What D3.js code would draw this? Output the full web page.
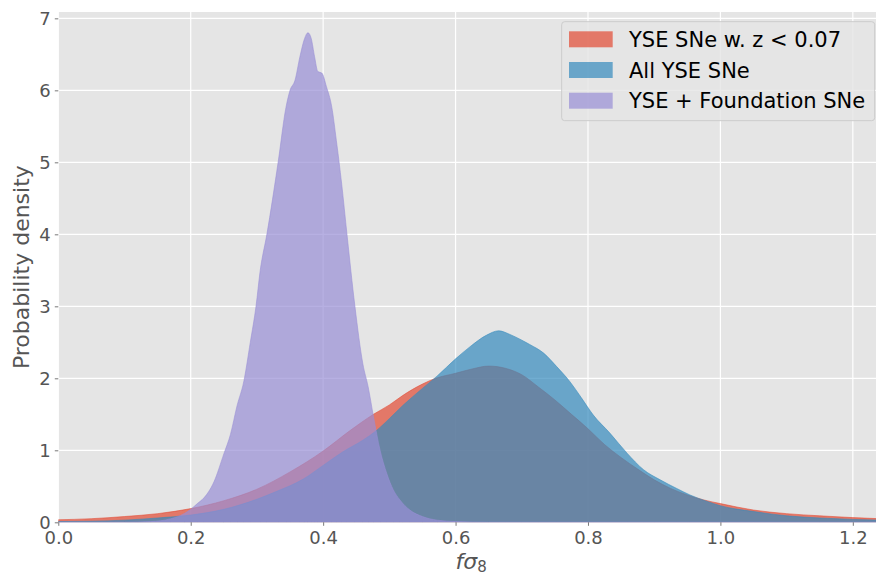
<!DOCTYPE html>
<html>
<head>
<meta charset="utf-8">
<script src="https://cdn.jsdelivr.net/npm/d3@7"></script>
<style>
  html, body { margin: 0; padding: 0; background: #ffffff; }
  svg { display: block; font-family: "DejaVu Sans", sans-serif; }
</style>
</head>
<body>
<svg id="chart" width="876" height="573"></svg>
<script>
// Posterior densities of f*sigma_8 for three supernova samples
const seriesNames = ["YSE SNe w. z < 0.07", "All YSE SNe", "YSE + Foundation SNe"];
const seriesColors = ["#E24A33", "#348ABD", "#988ED5"];

const lowZ = [
  [0.0, 0.035], [0.05, 0.05], [0.1, 0.08], [0.15, 0.12], [0.2, 0.19], [0.25, 0.3],
  [0.3, 0.46], [0.35, 0.7], [0.4, 0.99], [0.44, 1.27],
  [0.476, 1.5], [0.5, 1.63], [0.52, 1.76], [0.55, 1.92], [0.57, 2.0], [0.6, 2.07],
  [0.625, 2.13], [0.65, 2.17], [0.675, 2.14], [0.7, 2.05], [0.725, 1.88], [0.75, 1.7],
  [0.775, 1.5], [0.8, 1.3], [0.825, 1.08], [0.85, 0.9], [0.875, 0.74], [0.9, 0.59],
  [0.925, 0.47], [0.95, 0.38], [0.975, 0.31], [1.0, 0.26], [1.05, 0.17], [1.1, 0.12],
  [1.15, 0.09], [1.2, 0.065], [1.24, 0.05]
];

const allYSE = [
  [0.0, 0.01], [0.05, 0.015], [0.1, 0.03], [0.15, 0.06], [0.2, 0.1], [0.25, 0.18],
  [0.3, 0.32], [0.33, 0.43], [0.37, 0.6], [0.4, 0.79], [0.43, 0.98], [0.46, 1.14],
  [0.48, 1.27], [0.5, 1.44], [0.52, 1.62], [0.55, 1.86], [0.572, 2.03], [0.6, 2.27],
  [0.622, 2.44], [0.647, 2.6], [0.665, 2.66], [0.682, 2.61], [0.7, 2.53], [0.712, 2.47],
  [0.733, 2.35], [0.753, 2.16], [0.773, 1.95], [0.79, 1.73], [0.808, 1.49], [0.833, 1.24],
  [0.859, 0.96], [0.884, 0.73], [0.909, 0.59], [0.934, 0.47], [0.954, 0.38], [0.98, 0.29],
  [1.0, 0.23], [1.05, 0.15], [1.1, 0.09], [1.15, 0.06], [1.2, 0.04], [1.24, 0.03]
];

const withFoundation = [
  [0.0, 0.0], [0.1, 0.0], [0.14, 0.01], [0.17, 0.05], [0.19, 0.12], [0.2, 0.18],
  [0.21, 0.26], [0.22, 0.34], [0.235, 0.56], [0.25, 0.95], [0.26, 1.22], [0.27, 1.62],
  [0.28, 1.95], [0.29, 2.5], [0.2986, 3.0], [0.305, 3.5], [0.315, 4.0], [0.332, 5.0],
  [0.344, 5.77], [0.35, 6.0], [0.3575, 6.14], [0.365, 6.47], [0.372, 6.72], [0.377, 6.8],
  [0.382, 6.72], [0.387, 6.47], [0.392, 6.26], [0.398, 6.24], [0.405, 6.05], [0.413, 5.77],
  [0.42, 5.3], [0.428, 4.7], [0.436, 4.0], [0.448, 3.0], [0.46, 2.2], [0.468, 1.88],
  [0.476, 1.47], [0.486, 1.0], [0.496, 0.68], [0.506, 0.45], [0.516, 0.31], [0.531, 0.17],
  [0.55, 0.08], [0.572, 0.03], [0.6, 0.01], [0.65, 0.0], [1.24, 0.0]
];

const xTicks = [0.0, 0.2, 0.4, 0.6, 0.8, 1.0, 1.2];
const yTicks = [0, 1, 2, 3, 4, 5, 6, 7];

const W = 876, H = 573;
const margin = { left: 58.3, right: 0, top: 12, bottom: 50.7 };
const plotW = W - margin.left - margin.right;
const plotH = H - margin.top - margin.bottom;

const x = d3.scaleLinear().domain([0, 1.235]).range([0, plotW]);
const y = d3.scaleLinear().domain([0, 7.088]).range([plotH, 0]);

const svg = d3.select("#chart");
const g = svg.append("g").attr("transform", `translate(${margin.left},${margin.top})`);

// panel background
g.append("rect").attr("width", plotW).attr("height", plotH).attr("fill", "#E5E5E5");

// grid
g.append("g").selectAll("line").data(xTicks).join("line")
  .attr("x1", d => x(d)).attr("x2", d => x(d)).attr("y1", 0).attr("y2", plotH)
  .attr("stroke", "#ffffff").attr("stroke-width", 1.2);
g.append("g").selectAll("line").data(yTicks).join("line")
  .attr("x1", 0).attr("x2", plotW).attr("y1", d => y(d)).attr("y2", d => y(d))
  .attr("stroke", "#ffffff").attr("stroke-width", 1.2);

// density areas
const area = d3.area().x(d => x(d[0])).y0(y(0)).y1(d => y(d[1])).curve(d3.curveMonotoneX);
g.append("clipPath").attr("id", "plotclip")
  .append("rect").attr("width", plotW).attr("height", plotH);
const layers = g.append("g").attr("clip-path", "url(#plotclip)");
[lowZ, allYSE, withFoundation].forEach((data, i) => {
  layers.append("path").datum(data).attr("d", area)
    .attr("fill", seriesColors[i]).attr("fill-opacity", 0.7)
    .attr("stroke", seriesColors[i]).attr("stroke-opacity", 0.7).attr("stroke-width", 0.8);
});

// axes
const xAxis = d3.axisBottom(x).tickValues(xTicks).tickFormat(d3.format(".1f")).tickSize(3.5).tickPadding(5);
const yAxis = d3.axisLeft(y).tickValues(yTicks).tickFormat(d3.format("d")).tickSize(3.5).tickPadding(4);

const gx = g.append("g").attr("transform", `translate(0,${plotH})`).call(xAxis);
const gy = g.append("g").call(yAxis);
[gx, gy].forEach(a => {
  a.select(".domain").remove();
  a.selectAll(".tick line").attr("stroke", "#555555").attr("stroke-width", 0.8);
  a.selectAll(".tick text").attr("fill", "#555555").style("font-size", "18px")
    .style("font-family", "DejaVu Sans");
});

// axis titles
svg.append("text")
  .attr("transform", `translate(29,${margin.top + plotH / 2}) rotate(-90)`)
  .attr("text-anchor", "middle")
  .attr("fill", "#555555").style("font-size", "22px")
  .text("Probability density");

const xl = svg.append("text")
  .attr("x", margin.left + plotW / 2 + 4).attr("y", 569)
  .attr("text-anchor", "middle")
  .attr("fill", "#555555").style("font-size", "22px");
xl.append("tspan").style("font-style", "italic").text("fσ");
xl.append("tspan").attr("dy", 3).style("font-size", "15px").text("8");

// legend
const lg = svg.append("g");
lg.append("rect").attr("x", 561.7).attr("y", 21.7).attr("width", 313).attr("height", 99)
  .attr("rx", 3).attr("fill", "#E5E5E5").attr("fill-opacity", 0.8)
  .attr("stroke", "#CCCCCC").attr("stroke-width", 1);
seriesNames.forEach((name, i) => {
  const cy = 39.3 + i * 30.7;
  lg.append("rect").attr("x", 569).attr("y", cy - 8).attr("width", 43.7).attr("height", 16)
    .attr("fill", seriesColors[i]).attr("fill-opacity", 0.7);
  lg.append("text").attr("x", 629).attr("y", cy).attr("dy", "0.36em")
    .attr("fill", "#000000").style("font-size", "21px").text(name);
});
</script>
</body>
</html>
